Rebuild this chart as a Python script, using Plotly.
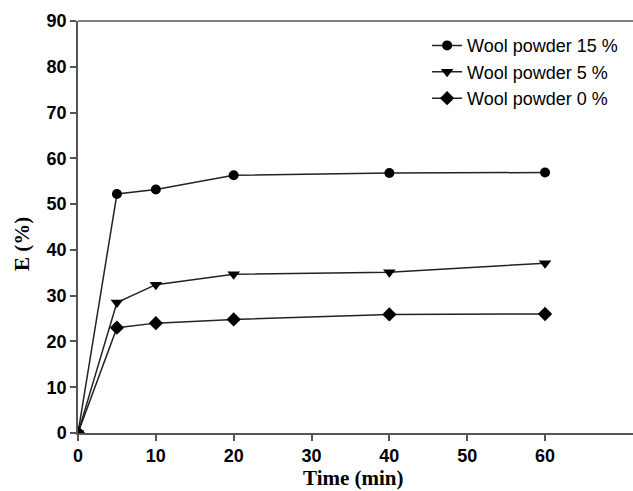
import plotly.graph_objects as go

time = [0, 5, 10, 20, 40, 60]
wool15 = [0, 52.2, 53.2, 56.3, 56.8, 56.9]
wool5 = [0, 28.5, 32.4, 34.7, 35.1, 37.1]
wool0 = [0, 23.0, 24.0, 24.8, 25.9, 26.0]
names = ["Wool powder 15 %", "Wool powder 5 %", "Wool powder 0 %"]
symbols = ["circle", "triangle-down", "diamond"]
xticks = [0, 10, 20, 30, 40, 50, 60]
yticks = [0, 10, 20, 30, 40, 50, 60, 70, 80, 90]

fig = go.Figure()
for ys, nm, sym in zip([wool15, wool5, wool0], names, symbols):
    fig.add_trace(go.Scatter(
        x=time, y=ys, name=nm, mode="lines+markers",
        line=dict(color="#222222", width=1.5),
        marker=dict(symbol=sym, size=11 if sym != "circle" else 10, color="black"),
    ))

tickfont = dict(family="Liberation Sans", size=18, color="black", weight=700)
fig.update_layout(
    width=633, height=491,
    margin=dict(l=78, r=0, t=21, b=58),
    paper_bgcolor="white", plot_bgcolor="white",
    font=dict(family="Liberation Sans", color="black"),
    showlegend=True,
    legend=dict(x=0.629, y=0.985, xanchor="left", yanchor="top",
                font=dict(family="Liberation Sans", size=18, color="black"),
                bgcolor="rgba(0,0,0,0)", tracegroupgap=0),
    xaxis=dict(range=[0, 71.3], tickvals=xticks, ticktext=[f"<b>{v}</b>" for v in xticks],
               showline=True, linecolor="#555555", linewidth=1.5,
               ticks="outside", ticklen=6, tickcolor="#555555", tickwidth=1.5,
               showgrid=False, zeroline=False, tickfont=tickfont),
    yaxis=dict(range=[0, 90], tickvals=yticks, ticktext=[f"<b>{v}</b>" for v in yticks],
               showline=True, linecolor="#555555", linewidth=1.5,
               ticks="outside", ticklen=6, tickcolor="#555555", tickwidth=1.5,
               showgrid=False, zeroline=False, tickfont=tickfont),
)
fig.add_shape(type="line", xref="paper", yref="paper", x0=0, x1=1, y0=1, y1=1,
              line=dict(color="#555555", width=1.5))
titlefont = dict(family="Liberation Serif", size=21, color="black", weight="bold")
fig.add_annotation(text="Time (min)", xref="paper", yref="paper",
                   x=(353 - 78) / 555, y=-(478 - 433) / 412, xanchor="center", yanchor="middle",
                   showarrow=False, font=titlefont)
fig.add_annotation(text="E (%)", xref="paper", yref="paper",
                   x=-(78 - 22) / 555, y=(433 - 244) / 412, xanchor="center", yanchor="middle",
                   textangle=-90, showarrow=False, font=titlefont)

fig.write_html("out.html")
